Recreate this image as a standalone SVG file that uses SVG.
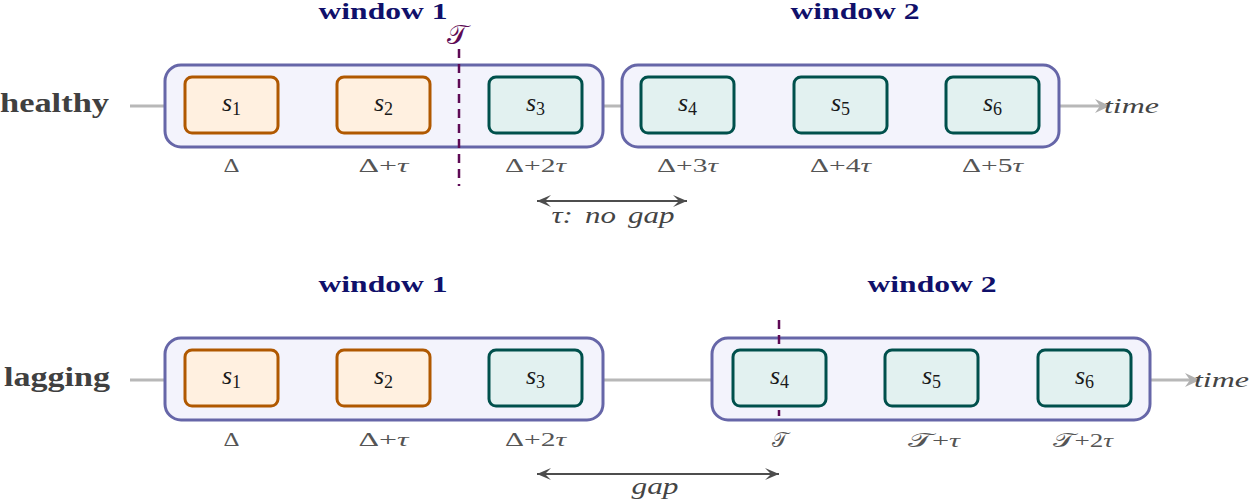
<svg xmlns="http://www.w3.org/2000/svg" width="1250" height="502" viewBox="0 0 1250 502">
<style>
.title{font-family:"Liberation Serif",serif;font-weight:bold;font-size:23px;fill:#10106a;text-anchor:middle}
.row{font-family:"Liberation Serif",serif;font-weight:bold;font-size:27px;fill:#404040}
.win{fill:#f3f3fc;stroke:#6666a8;stroke-width:3}
.org{fill:#fff0e0;stroke:#b05800;stroke-width:3}
.teal{fill:#e2f1f0;stroke:#00504c;stroke-width:3}
.s{font-family:"Liberation Serif",serif;font-size:26px;fill:#1a1a1a;text-anchor:middle}
.lab{font-family:"Liberation Serif",serif;font-size:19px;fill:#555;text-anchor:middle}
.it{font-style:italic}
.tl{stroke:#b8b8b8;stroke-width:3;fill:none}
.dash{stroke:#5e0a55;stroke-width:2.5;stroke-dasharray:9 6;fill:none}
.cal{font-family:"DejaVu Serif","Noto Sans",serif;font-size:27px;fill:#5e0a55;text-anchor:middle}
.arr{stroke:#4d4d4d;stroke-width:2.2;fill:none}
.time{font-family:"Liberation Serif",serif;font-style:italic;font-size:22px;fill:#444}
.albl{font-family:"Liberation Serif",serif;font-style:italic;font-size:23px;fill:#444;text-anchor:middle}
</style>
<defs>
<marker id="tarr" markerUnits="userSpaceOnUse" markerWidth="18" markerHeight="16" viewBox="-15 -8 16 16" refX="0" refY="0" orient="auto">
<path d="M0,0 L-15,-7 L-10,0 L-15,7 Z" fill="#b0b0b0"/>
</marker>
<marker id="darr" markerUnits="userSpaceOnUse" markerWidth="16" markerHeight="14" viewBox="-14 -7 15 14" refX="0" refY="0" orient="auto-start-reverse">
<path d="M0,0 L-14,-6 L-8,0 L-14,6 Z" fill="#4d4d4d"/>
</marker>
</defs>

<g id="connectors">
<line class="tl" x1="130" y1="106" x2="1110" y2="106" marker-end="url(#tarr)"/>
<line class="tl" x1="130" y1="380" x2="1200" y2="380" marker-end="url(#tarr)"/>
<line class="arr" x1="537" y1="201" x2="687" y2="201" marker-start="url(#darr)" marker-end="url(#darr)"/>
<line class="arr" x1="537" y1="474" x2="779" y2="474" marker-start="url(#darr)" marker-end="url(#darr)"/>
</g>

<g id="healthy-label"><text class="row" x="0" y="112" textLength="109" lengthAdjust="spacingAndGlyphs">healthy</text></g>
<g id="lagging-label"><text class="row" x="4" y="386" textLength="106" lengthAdjust="spacingAndGlyphs">lagging</text></g>

<g id="top-window1">
<rect class="win" x="165" y="65" width="438" height="82" rx="16"/>
<text class="title" x="383" y="19" textLength="129" lengthAdjust="spacingAndGlyphs">window 1</text>
</g>
<g id="top-window2">
<rect class="win" x="622" y="65" width="437" height="82" rx="16"/>
<text class="title" x="855" y="19" textLength="129" lengthAdjust="spacingAndGlyphs">window 2</text>
</g>

<g id="top-T">
<line class="dash" x1="459" y1="49" x2="459" y2="186"/>
<text class="cal" x="457" y="44">𝒯</text>
</g>

<g id="top-s1"><rect class="org" x="185" y="77" width="93" height="56" rx="7"/>
<text class="s" x="231.5" y="111"><tspan class="it">s</tspan><tspan font-size="18" dy="4">1</tspan></text>
<text class="lab" x="231.5" y="172" textLength="16" lengthAdjust="spacingAndGlyphs">Δ</text></g>
<g id="top-s2"><rect class="org" x="337" y="77" width="93" height="56" rx="7"/>
<text class="s" x="383.5" y="111"><tspan class="it">s</tspan><tspan font-size="18" dy="4">2</tspan></text>
<text class="lab" x="383.5" y="172" textLength="50" lengthAdjust="spacingAndGlyphs">Δ+<tspan class="it">τ</tspan></text></g>
<g id="top-s3"><rect class="teal" x="489" y="77" width="93" height="56" rx="7"/>
<text class="s" x="535.5" y="111"><tspan class="it">s</tspan><tspan font-size="18" dy="4">3</tspan></text>
<text class="lab" x="535.5" y="172" textLength="61" lengthAdjust="spacingAndGlyphs">Δ+2<tspan class="it">τ</tspan></text></g>
<g id="top-s4"><rect class="teal" x="641" y="77" width="93" height="56" rx="7"/>
<text class="s" x="687.5" y="111"><tspan class="it">s</tspan><tspan font-size="18" dy="4">4</tspan></text>
<text class="lab" x="687.5" y="172" textLength="61" lengthAdjust="spacingAndGlyphs">Δ+3<tspan class="it">τ</tspan></text></g>
<g id="top-s5"><rect class="teal" x="794" y="77" width="93" height="56" rx="7"/>
<text class="s" x="840.5" y="111"><tspan class="it">s</tspan><tspan font-size="18" dy="4">5</tspan></text>
<text class="lab" x="840.5" y="172" textLength="61" lengthAdjust="spacingAndGlyphs">Δ+4<tspan class="it">τ</tspan></text></g>
<g id="top-s6"><rect class="teal" x="946" y="77" width="93" height="56" rx="7"/>
<text class="s" x="992.5" y="111"><tspan class="it">s</tspan><tspan font-size="18" dy="4">6</tspan></text>
<text class="lab" x="992.5" y="172" textLength="61" lengthAdjust="spacingAndGlyphs">Δ+5<tspan class="it">τ</tspan></text></g>

<g id="top-time"><text class="time" x="1104" y="113" textLength="55" lengthAdjust="spacingAndGlyphs">time</text></g>
<g id="top-gap-label"><text class="albl" x="613" y="223" textLength="123" lengthAdjust="spacingAndGlyphs">τ:<tspan dx="9">no</tspan><tspan dx="9">gap</tspan></text></g>

<g id="bot-window1">
<rect class="win" x="165" y="338" width="438" height="82" rx="16"/>
<text class="title" x="383" y="292" textLength="129" lengthAdjust="spacingAndGlyphs">window 1</text>
</g>
<g id="bot-window2">
<rect class="win" x="712" y="338" width="438" height="82" rx="16"/>
<text class="title" x="932" y="292" textLength="129" lengthAdjust="spacingAndGlyphs">window 2</text>
</g>

<g id="bot-T"><line class="dash" x1="779" y1="320" x2="779" y2="416"/></g>

<g id="bot-s1"><rect class="org" x="185" y="350" width="93" height="56" rx="7"/>
<text class="s" x="231.5" y="384"><tspan class="it">s</tspan><tspan font-size="18" dy="4">1</tspan></text>
<text class="lab" x="231.5" y="446" textLength="16" lengthAdjust="spacingAndGlyphs">Δ</text></g>
<g id="bot-s2"><rect class="org" x="337" y="350" width="93" height="56" rx="7"/>
<text class="s" x="383.5" y="384"><tspan class="it">s</tspan><tspan font-size="18" dy="4">2</tspan></text>
<text class="lab" x="383.5" y="446" textLength="50" lengthAdjust="spacingAndGlyphs">Δ+<tspan class="it">τ</tspan></text></g>
<g id="bot-s3"><rect class="teal" x="489" y="350" width="93" height="56" rx="7"/>
<text class="s" x="535.5" y="384"><tspan class="it">s</tspan><tspan font-size="18" dy="4">3</tspan></text>
<text class="lab" x="535.5" y="446" textLength="61" lengthAdjust="spacingAndGlyphs">Δ+2<tspan class="it">τ</tspan></text></g>
<g id="bot-s4"><rect class="teal" x="733" y="350" width="93" height="56" rx="7"/>
<text class="s" x="779.5" y="384"><tspan class="it">s</tspan><tspan font-size="18" dy="4">4</tspan></text>
<text class="cal" x="779.5" y="447" style="fill:#555;font-size:21px">𝒯</text></g>
<g id="bot-s5"><rect class="teal" x="885" y="350" width="93" height="56" rx="7"/>
<text class="s" x="931.5" y="384"><tspan class="it">s</tspan><tspan font-size="18" dy="4">5</tspan></text>
<text class="lab" x="934" y="447" textLength="52" lengthAdjust="spacingAndGlyphs"><tspan font-family="DejaVu Serif" font-size="20">𝒯</tspan>+<tspan class="it">τ</tspan></text></g>
<g id="bot-s6"><rect class="teal" x="1038" y="350" width="93" height="56" rx="7"/>
<text class="s" x="1084.5" y="384"><tspan class="it">s</tspan><tspan font-size="18" dy="4">6</tspan></text>
<text class="lab" x="1083" y="447" textLength="60" lengthAdjust="spacingAndGlyphs"><tspan font-family="DejaVu Serif" font-size="20">𝒯</tspan>+2<tspan class="it">τ</tspan></text></g>

<g id="bot-time"><text class="time" x="1194" y="387" textLength="55" lengthAdjust="spacingAndGlyphs">time</text></g>
<g id="bot-gap-label"><text class="albl" x="655" y="494" textLength="47" lengthAdjust="spacingAndGlyphs">gap</text></g>
</svg>
